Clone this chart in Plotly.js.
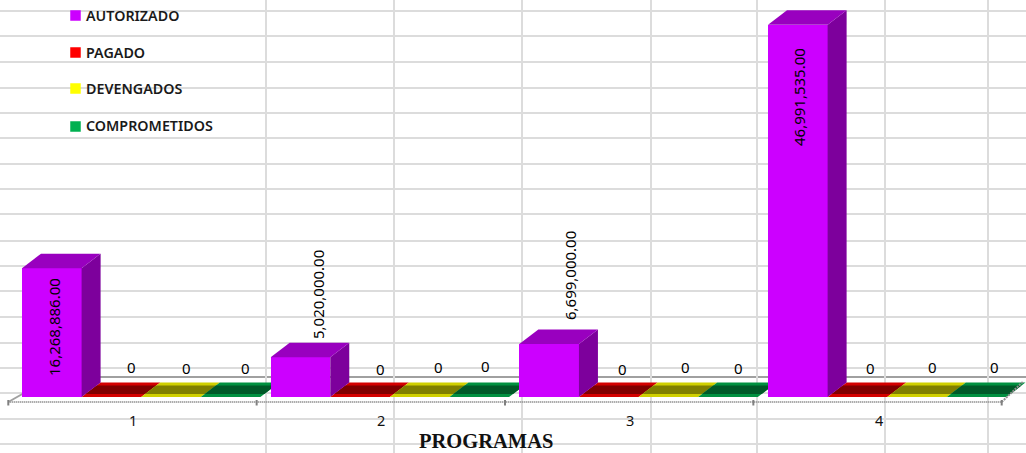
<!DOCTYPE html>
<html><head><meta charset="utf-8">
<script src="https://cdn.plot.ly/plotly-3.0.1.min.js"></script>
<style>html,body{margin:0;padding:0;background:#fff}#c{width:1026px;height:453px}</style>
</head><body><div id="c"></div>
<script>
const programas = [1, 2, 3, 4];
const seriesNames = ['AUTORIZADO', 'PAGADO', 'DEVENGADOS', 'COMPROMETIDOS'];
const autorizado = [16268886, 5020000, 6699000, 46991535];
const pagado = [0, 0, 0, 0];
const devengados = [0, 0, 0, 0];
const comprometidos = [0, 0, 0, 0];
const allSeries = [autorizado, pagado, devengados, comprometidos];
const frontColors = ['#cc00ff', '#ff0000', '#ffff00', '#00b050'];
const bandColors = ['#cc00ff', '#d40000', '#d0d000', '#009040'];
const topColors = ['#9900bf', '#7f0000', '#7f7f00', '#005828'];
const sideColors = ['#7d009c', '#7f0000', '#7f7f00', '#005828'];

// scale setup (pixels of the 1026x453 picture)
const W = 1026, H = 453, PXU = 248.67, PXM = 7.92 / 1e6, Y0 = 397;
const xMin = 1 - 132.8 / PXU, xMax = xMin + W / PXU;
const yMin = -(H - Y0) / PXM, yMax = Y0 / PXM;
const barW = 59.6 / PXU, firstOff = (22 - 132.8) / PXU;
const dx = 19 / PXU, dy = 14.5 / PXM, band = 3 / PXM;
const gridY = [11, 36.4, 61.8, 87.5, 112.8, 138, 163.5, 189, 214.3, 240.7, 265.7, 291, 317, 342.7, 368, 393, 419, 444];
const gridX = [266, 394, 522, 651, 757, 885, 988];
const noHover = {hoverinfo:'skip', showlegend:false};

const floorTraces = [], barTraces = [];
// floor tiles for zero values, and 3D faces for the others: derived from the values
programas.forEach((p, i) => {
  allSeries.forEach((vals, s) => {
    const v = vals[i], a = p + firstOff + s * barW, b = a + barW;
    if (v > 0) {
      barTraces.push({x:[b, b+dx, b+dx, b, b], y:[0, dy, v+dy, v, 0], xaxis:'x3', yaxis:'y3', mode:'lines', fill:'toself',
        fillcolor:sideColors[s], line:{width:0}, ...noHover});
      barTraces.push({x:[a, a+dx, b+dx, b, a], y:[v, v+dy, v+dy, v, v], xaxis:'x3', yaxis:'y3', mode:'lines', fill:'toself',
        fillcolor:topColors[s], line:{width:0}, ...noHover});
    } else {
      floorTraces.push({x:[a, a+dx, b+dx, b, a], y:[v, v+dy, v+dy, v, v], mode:'lines', fill:'toself',
        fillcolor:bandColors[s], line:{width:0}, ...noHover});
      const k = band / dy * dx, lo = v + band, hi = v + dy - band;
      floorTraces.push({x:[a+k, a+dx-k, b+dx-k, b+k, a+k], y:[lo, hi, hi, lo, lo], mode:'lines', fill:'toself',
        fillcolor:topColors[s], line:{width:0}, ...noHover});
    }
  });
});
// front faces of the tall bars
const barTrace = {type:'bar', x:programas, y:autorizado, width:barW, offset:firstOff, xaxis:'x3', yaxis:'y3',
  marker:{color:frontColors[0], line:{width:0}}, name:seriesNames[0], hoverinfo:'x+y', showlegend:false};

// axis frame (dotted front edge + slanted sides)
const ax0 = 1 + (8.3 - 132.8) / PXU, ax1 = 1 + (1001.7 - 132.8) / PXU;
const yFront = -5 / PXM;
const frame = [];
frame.push({x:[ax0, ax1], y:[yFront, yFront], mode:'lines', line:{color:'#8a8a8a', width:2, dash:'1px,1px'}, ...noHover});
frame.push({x:[ax0, ax0 + 14/PXU], y:[yFront, yFront + 8/PXM], mode:'lines', line:{color:'#a0a0a0', width:2}, ...noHover});
frame.push({x:[ax1, ax1 + 21/PXU], y:[yFront, yFront + 20/PXM], mode:'lines', line:{color:'#909090', width:2, dash:'2px,1px'}, ...noHover});
[0,1,2,3,4].forEach(k => {
  const tx = ax0 + k * (ax1 - ax0) / 4;
  frame.push({x:[tx, tx], y:[yFront + 2/PXM, yFront - 3.5/PXM], mode:'lines', line:{color:'#808080', width:2}, ...noHover});
});

// legend squares
const legSquareY = [15.5, 52.5, 88.5, 126.5];
const legTextY = [15.5, 52.5, 88.5, 125.5];
const legend = seriesNames.map((n, i) => ({x:[75.5], y:[legSquareY[i]], xaxis:'x2', yaxis:'y2', mode:'markers', name:n,
    marker:{symbol:'square', size:10.5, color:frontColors[i], line:{width:0}}, ...noHover}));

const fmt = v => v === 0 ? '0' : v.toLocaleString('en-US', {minimumFractionDigits:2, maximumFractionDigits:2});
const textFamily = '"Noto Sans", "Open Sans", sans-serif';
const labelFont = {family:textFamily, size:15, color:'#000'};
const barLabelPos = [[54, 327], [318, 295], [570, 276], [799, 97]];
const zeroLabelX = [[131,186,245.7],[380.7,438,485],[622.3,685,738],[870.7,932.7,994]];
const zeroLabelY = [[366.7,368,368],[369,366.7,366],[368.7,366.7,368],[368.3,366.7,366.7]];
const annotations = [];
programas.forEach((p, i) => {
  annotations.push({x:barLabelPos[i][0], y:barLabelPos[i][1], xref:'x2', yref:'y2', text:fmt(autorizado[i]), textangle:-90,
    showarrow:false, font:labelFont});
  [pagado, devengados, comprometidos].forEach((arr, s) => {
    annotations.push({x:zeroLabelX[i][s], y:zeroLabelY[i][s], xref:'x2', yref:'y2', text:fmt(arr[i]), showarrow:false, font:labelFont});
  });
  annotations.push({x:p, y:-23/PXM, xref:'x', yref:'y', text:String(p), showarrow:false,
    font:{family:textFamily, size:14.5, color:'#111'}});
});
seriesNames.forEach((n, i) => annotations.push({x:86, y:legTextY[i], xref:'x2', yref:'y2', xanchor:'left', xshift:-2, text:n, showarrow:false,
  font:{family:textFamily, size:14.3, color:'#1a1a1a', weight:600}}));
annotations.push({x:486, y:441, xref:'x2', yref:'y2', text:'<b>PROGRAMAS</b>', showarrow:false,
  font:{family:'"Liberation Serif", serif', size:20.5, color:'#111'}});

const hidden = {showgrid:false, zeroline:false, showline:false, showticklabels:false, ticks:'', fixedrange:true};
const layout = {
  width:W, height:H, margin:{l:0, r:0, t:0, b:0}, paper_bgcolor:'#fff', plot_bgcolor:'rgba(0,0,0,0)',
  showlegend:false, bargap:0,
  xaxis:{...hidden, range:[xMin, xMax]},
  yaxis:{...hidden, range:[yMin, yMax]},
  xaxis2:{...hidden, overlaying:'x', range:[0, W], tickvals:gridX, showgrid:true, gridcolor:'#dcdcdc', gridwidth:2.5, side:'top'},
  yaxis2:{...hidden, overlaying:'y', range:[H, 0], tickvals:gridY, showgrid:true, gridcolor:'#dcdcdc', gridwidth:2, side:'right'},
  xaxis3:{...hidden, overlaying:'x', range:[xMin, xMax]},
  yaxis3:{...hidden, overlaying:'y', range:[yMin, yMax]},
  shapes:[{type:'line', layer:'below', xref:'x', yref:'y', x0:1 + (28-132.8)/PXU, x1:xMax, y0:20/PXM, y1:20/PXM, line:{color:'#a0a0a0', width:2}}],
  annotations:annotations
};
Plotly.newPlot('c', floorTraces.concat(frame, legend, [barTrace], barTraces), layout, {displayModeBar:false, staticPlot:true});
</script></body></html>
